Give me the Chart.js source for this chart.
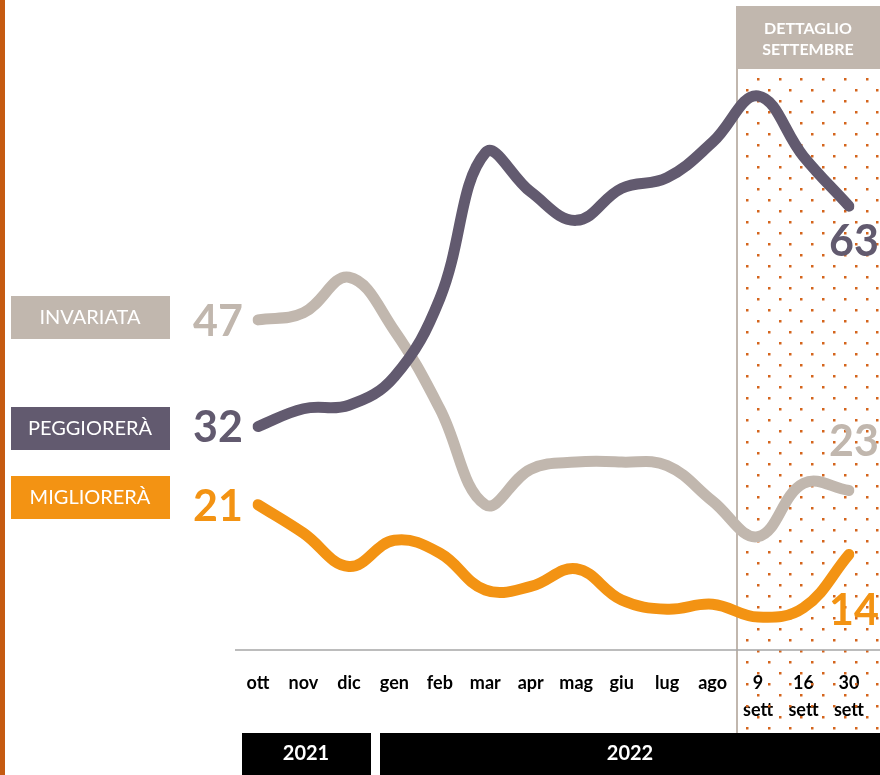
<!DOCTYPE html>
<html>
<head>
<meta charset="utf-8">
<script src="https://cdn.jsdelivr.net/npm/chart.js@4.4.1/dist/chart.umd.min.js"></script>
<style>
	html, body { margin: 0; padding: 0; background: #fff; }
</style>
</head>
<body>
<canvas id="myChart" width="880" height="775"></canvas>
<script>
(() => {
	"use strict";

	// Data
	const categories = ["ott", "nov", "dic", "gen", "feb", "mar", "apr", "mag", "giu", "lug", "ago", ["9", "sett"], ["16", "sett"], ["30", "sett"]];
	const peggiorera = [32, 34.5, 35, 39, 50, 70.5, 65, 61, 65.5, 67, 72, 78.5, 70, 63];
	const invariata = [47, 48, 53, 45.5, 34.5, 21, 26, 27, 27, 26.5, 21.5, 16.5, 24, 23];
	const migliorera = [21, 17, 12.3, 16, 14.2, 9, 9.5, 12, 7.6, 6.3, 7, 5.2, 6.5, 14];
	const seriesNames = ["PEGGIORERÀ", "INVARIATA", "MIGLIORERÀ"];
	const startLabels = ["32", "47", "21"];
	const endLabels = ["63", "23", "14"];
	const years = ["2021", "2022"];

	const PURPLE = "#625A6F";
	const BEIGE = "#C1B7AE";
	const ORANGE = "#F39313";
	const FONT = "Lato, 'Open Sans', sans-serif";

	Chart.defaults.font.family = FONT;

	const decor = {
		id: "decor",
		beforeDatasetsDraw(chart) {
			const c = chart.ctx;
			c.save();
			// left accent bar
			c.fillStyle = "#C55A11";
			c.fillRect(0, 0, 5, 775);

			// september detail area: dots
			c.fillStyle = "#D4641C";
			let row = 0;
			for (let y = 79; y < 733; y += 11, row++) {
				const x0 = row % 2 === 0 ? 758 : 747;
				for (let x = x0; x < 880; x += 21.7) {
					c.fillRect(Math.round(x) - 1, y - 1, 2.5, 2.5);
				}
			}
			// separator
			c.strokeStyle = BEIGE;
			c.lineWidth = 2;
			c.beginPath();
			c.moveTo(737, 68);
			c.lineTo(737, 733);
			c.stroke();

			// header box
			c.fillStyle = BEIGE;
			c.fillRect(736, 6, 144, 63);
			c.fillStyle = "#fff";
			c.font = "bold 16px " + FONT;
			c.textAlign = "center";
			c.textBaseline = "middle";
			c.fillText("DETTAGLIO", 808, 29);
			c.fillText("SETTEMBRE", 808, 50);

			// x axis line
			c.strokeStyle = "#A6A6A6";
			c.lineWidth = 1.5;
			c.beginPath();
			c.moveTo(235, 650);
			c.lineTo(880, 650);
			c.stroke();

			// year boxes
			c.fillStyle = "#000";
			c.fillRect(242, 733, 129, 42);
			c.fillRect(380, 733, 500, 42);
			c.fillStyle = "#fff";
			c.font = "bold 20px " + FONT;
			c.fillText(years[0], 306, 754);
			c.fillText(years[1], 630, 754);

			// legend boxes
			const boxes = [
				{ y: 407, color: PURPLE },
				{ y: 296, color: BEIGE },
				{ y: 476, color: ORANGE },
			];
			c.font = "20px " + FONT;
			boxes.forEach((b, i) => {
				c.fillStyle = b.color;
				c.fillRect(11, b.y, 159, 43);
				c.fillStyle = "#fff";
				c.fillText(seriesNames[i], 90, b.y + 22);
			});
			c.restore();
		},
		afterDatasetsDraw(chart) {
			const c = chart.ctx;
			c.save();
			c.font = "bold 43px " + FONT;
			c.textBaseline = "middle";
			const endOffsets = [36, -48, 57];
			chart.data.datasets.forEach((ds, i) => {
				const pts = chart.getDatasetMeta(i).data;
				const first = pts[0];
				const last = pts[pts.length - 1];
				c.fillStyle = ds.borderColor;
				c.textAlign = "right";
				c.fillText(startLabels[i], 243, first.y + 2);
				c.textAlign = "center";
				c.fillText(endLabels[i], 854, last.y + endOffsets[i]);
			});
			c.restore();
		},
	};

	const line = (data, color) => ({
		data: data,
		borderColor: color,
		backgroundColor: color,
		borderWidth: 11,
		borderCapStyle: "round",
		borderJoinStyle: "round",
		tension: 0.4,
		pointRadius: 0,
		fill: false,
	});

	const ctx = document.getElementById("myChart");
	// eslint-disable-next-line no-unused-vars
	const myChart = new Chart(ctx, {
		type: "line",
		data: {
			labels: categories,
			datasets: [
				line(peggiorera, PURPLE),
				line(invariata, BEIGE),
				line(migliorera, ORANGE),
			],
		},
		plugins: [decor],
		options: {
			responsive: false,
			animation: false,
			layout: {
				padding: { left: 258, right: 30, top: 0, bottom: 0 },
			},
			plugins: {
				legend: { display: false },
				tooltip: { enabled: false },
			},
			scales: {
				x: {
					offset: false,
					grid: { display: false, drawTicks: false },
					border: { display: false },
					afterFit: (scale) => {
						scale.height = 121;
					},
					ticks: {
						autoSkip: false,
						maxRotation: 0,
						minRotation: 0,
						padding: 16,
						color: "#000",
						font: { family: FONT, weight: "bold", size: 18, lineHeight: 1.5 },
					},
				},
				y: {
					display: false,
					min: 0,
					max: 92,
				},
			},
		},
	});
})();
</script>
</body>
</html>
